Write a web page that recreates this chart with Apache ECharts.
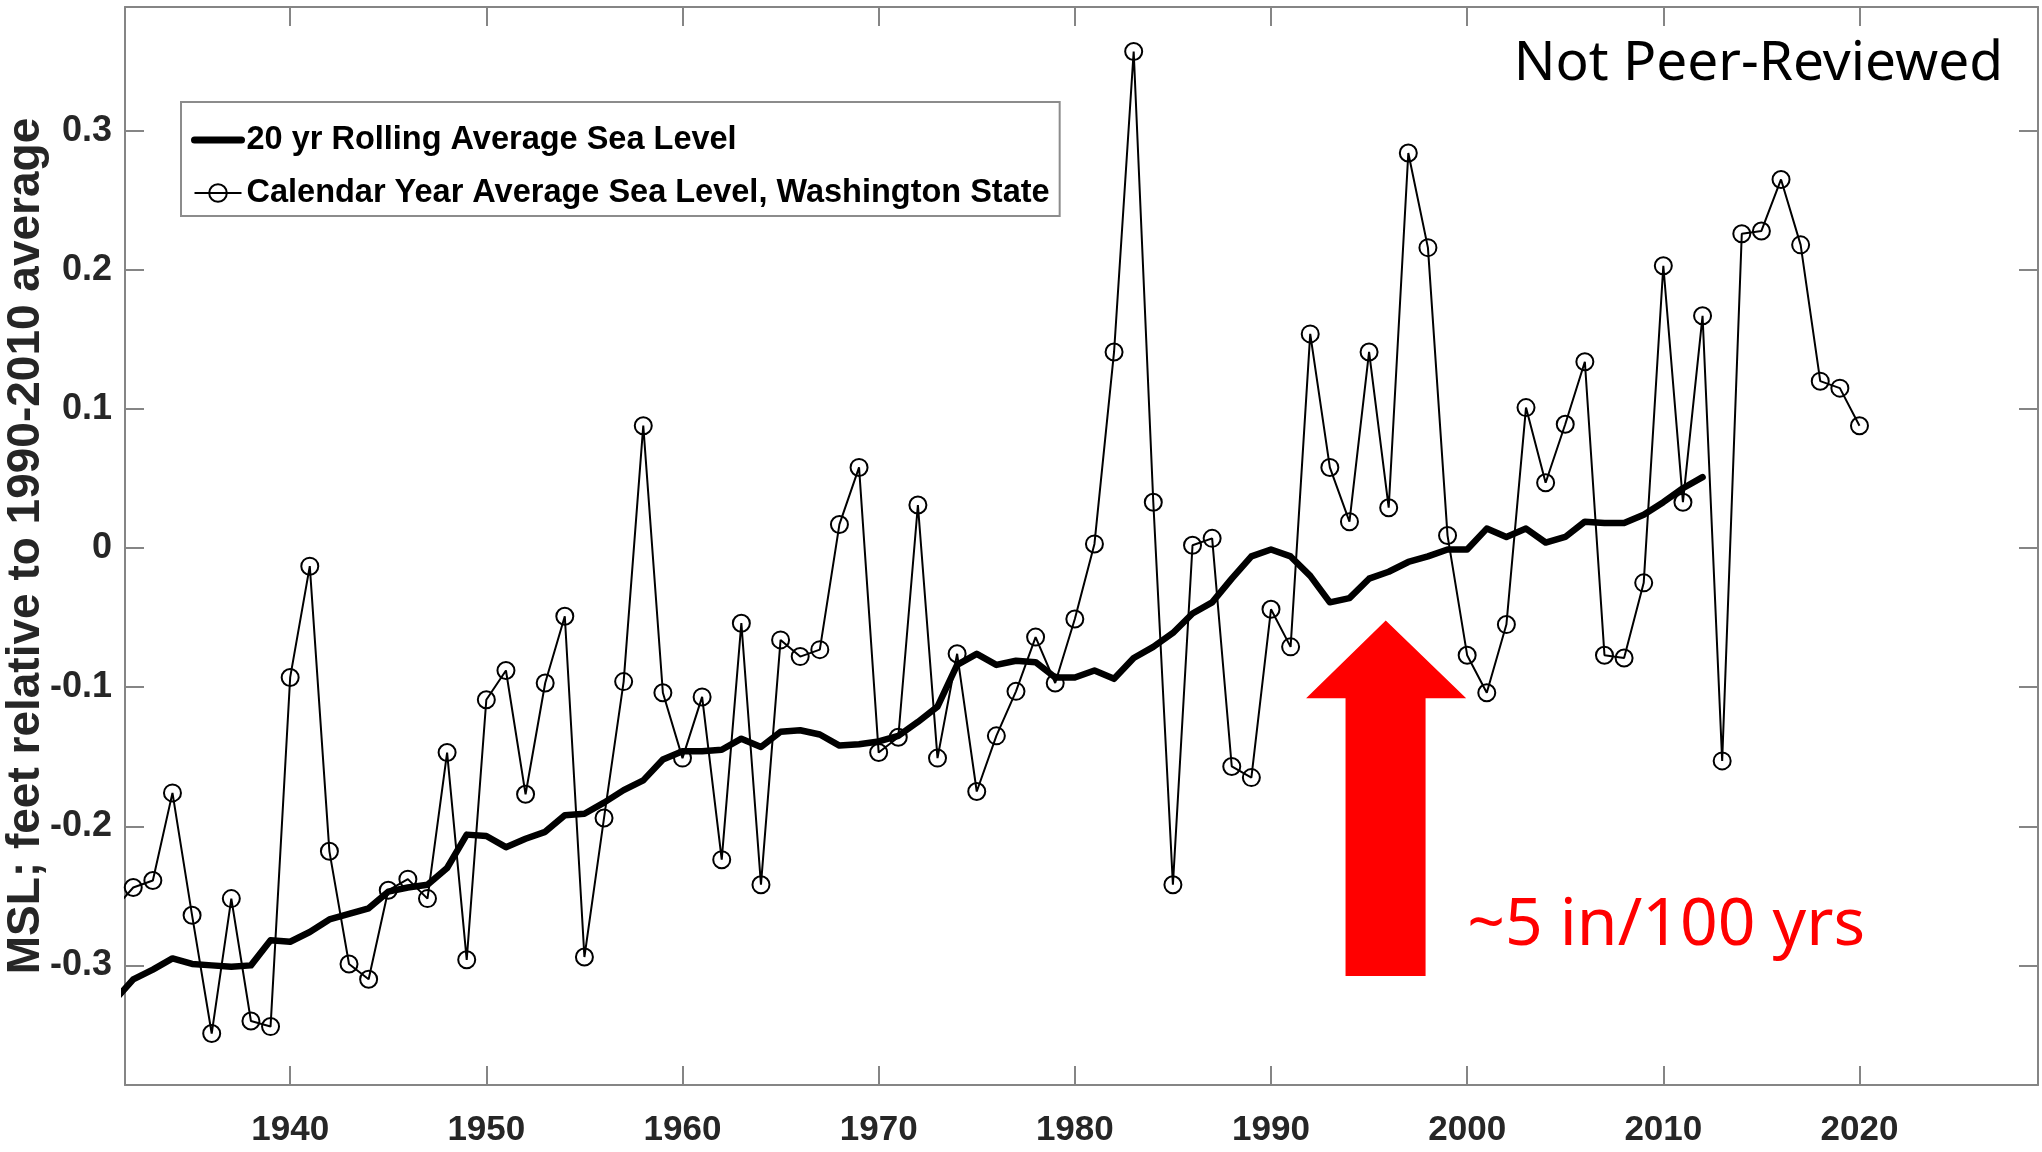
<!DOCTYPE html>
<html>
<head>
<meta charset="utf-8">
<script src="https://cdn.jsdelivr.net/npm/echarts@6/dist/echarts.min.js"></script>
<style>
  html, body { margin: 0; padding: 0; background: #ffffff; }
  #chart { width: 2042px; height: 1152px; }
</style>
</head>
<body>
<div id="chart"></div>
<script>
// Annual mean sea level, Washington State (feet relative to the 1990-2010 average)
const calendarStartYear = 1931;
const calendarLevels = [
  -0.260, -0.244, -0.239, -0.176, -0.264, -0.349, -0.252, -0.340, -0.344, -0.093, // 1931-1940
  -0.013, -0.218, -0.299, -0.310, -0.246, -0.238, -0.252, -0.147, -0.296, -0.109, // 1941-1950
  -0.088, -0.177, -0.097, -0.049, -0.294, -0.194, -0.096,  0.088, -0.104, -0.151, // 1951-1960
  -0.107, -0.224, -0.054, -0.242, -0.066, -0.078, -0.073,  0.017,  0.058, -0.147, // 1961-1970
  -0.136,  0.031, -0.151, -0.076, -0.175, -0.135, -0.103, -0.064, -0.097, -0.051, // 1971-1980
   0.003,  0.141,  0.357,  0.033, -0.242,  0.002,  0.007, -0.157, -0.165, -0.044, // 1981-1990
  -0.071,  0.154,  0.058,  0.019,  0.141,  0.029,  0.284,  0.216,  0.009, -0.077, // 1991-2000
  -0.104, -0.055,  0.101,  0.047,  0.089,  0.134, -0.077, -0.079, -0.025,  0.203, // 2001-2010
   0.033,  0.167, -0.153,  0.226,  0.228,  0.265,  0.218,  0.120,  0.115,  0.088  // 2011-2020
];

// 20-year rolling mean of the same record
const rollingStartYear = 1931;
const rollingLevels = [
  -0.326, -0.310, -0.303, -0.295, -0.299, -0.300, -0.301, -0.300, -0.282, -0.283, // 1931-1940
  -0.276, -0.267, -0.263, -0.259, -0.247, -0.244, -0.242, -0.230, -0.206, -0.207, // 1941-1950
  -0.215, -0.209, -0.204, -0.192, -0.191, -0.183, -0.174, -0.167, -0.152, -0.146, // 1951-1960
  -0.146, -0.145, -0.137, -0.143, -0.132, -0.131, -0.134, -0.142, -0.141, -0.139, // 1961-1970
  -0.135, -0.125, -0.114, -0.084, -0.076, -0.084, -0.081, -0.082, -0.093, -0.093, // 1971-1980
  -0.088, -0.094, -0.079, -0.071, -0.061, -0.047, -0.039, -0.022, -0.006, -0.001, // 1981-1990
  -0.006, -0.020, -0.039, -0.036, -0.022, -0.017, -0.010, -0.006, -0.001, -0.001, // 1991-2000
   0.014,  0.008,  0.014,  0.004,  0.008,  0.019,  0.018,  0.018,  0.024,  0.033, // 2001-2010
   0.043,  0.051                                                                   // 2011-2012
];

const xTickValues = [1940, 1950, 1960, 1970, 1980, 1990, 2000, 2010, 2020];
const yTickValues = [-0.3, -0.2, -0.1, 0, 0.1, 0.2, 0.3];

const rollingName = '20 yr Rolling Average Sea Level';
const calendarName = 'Calendar Year Average Sea Level, Washington State';
const trendNote = '~5 in/100 yrs';
const stampText = 'Not Peer-Reviewed';

const calendarData = calendarLevels.map((v, i) => [calendarStartYear + i, v]);
const rollingData = rollingLevels.map((v, i) => [rollingStartYear + i, v]);

const boldFont = "'Liberation Sans', Arial, Helvetica, sans-serif";
const axisGray = '#858585';
const labelColor = '#262626';

// Up-pointing arrow outline in (year, feet) space
const arrowOutline = [
  [1995.85, -0.052],
  [1999.95, -0.108],
  [1997.88, -0.108],
  [1997.88, -0.3076],
  [1993.80, -0.3076],
  [1993.80, -0.108],
  [1991.79, -0.108]
];
const notePosition = [2000.0, -0.272];

const chart = echarts.init(document.getElementById('chart'), null, { renderer: 'canvas' });

const xRange = { min: 1931.58, max: 2029.1 };
const yRange = { min: -0.386, max: 0.389 };

function tickStyle() {
  return { show: true, inside: true, length: 19, lineStyle: { color: axisGray, width: 2 } };
}

chart.setOption({
  backgroundColor: '#ffffff',
  animation: false,
  grid: { left: 125, right: 4, top: 7, bottom: 67, containLabel: false, outerBoundsMode: 'none' },
  xAxis: [
    {
      type: 'value', position: 'bottom', min: xRange.min, max: xRange.max,
      axisLine: { show: true, onZero: false, lineStyle: { color: axisGray, width: 2 } },
      axisTick: Object.assign(tickStyle(), { customValues: xTickValues }),
      axisLabel: {
        customValues: xTickValues, margin: 28,
        fontFamily: boldFont, fontWeight: 'bold', fontSize: 35, color: labelColor,
        formatter: v => String(Math.round(v))
      },
      splitLine: { show: false }
    },
    {
      type: 'value', position: 'top', min: xRange.min, max: xRange.max,
      axisLine: { show: true, onZero: false, lineStyle: { color: axisGray, width: 2 } },
      axisTick: Object.assign(tickStyle(), { customValues: xTickValues }),
      axisLabel: { show: false },
      splitLine: { show: false }
    }
  ],
  yAxis: [
    {
      type: 'value', position: 'left', min: yRange.min, max: yRange.max,
      axisLine: { show: true, onZero: false, lineStyle: { color: axisGray, width: 2 } },
      axisTick: Object.assign(tickStyle(), { customValues: yTickValues }),
      axisLabel: {
        customValues: yTickValues, margin: 13,
        fontFamily: boldFont, fontWeight: 'bold', fontSize: 36, color: labelColor,
        formatter: v => (Math.abs(v) < 1e-9 ? '0' : v.toFixed(1))
      },
      splitLine: { show: false },
      name: 'MSL; feet relative to 1990-2010 average',
      nameLocation: 'middle',
      nameGap: 76,
      nameMoveOverlap: false,
      nameTextStyle: {
        fontFamily: boldFont, fontWeight: 'bold',
        fontSize: 46, color: labelColor
      }
    },
    {
      type: 'value', position: 'right', min: yRange.min, max: yRange.max,
      axisLine: { show: true, onZero: false, lineStyle: { color: axisGray, width: 2 } },
      axisTick: Object.assign(tickStyle(), { customValues: yTickValues }),
      axisLabel: { show: false },
      splitLine: { show: false }
    }
  ],
  legend: {
    orient: 'vertical',
    left: 181, top: 102,
    data: [
      // thick line only, no marker, for the rolling mean entry
      {
        name: rollingName,
        itemStyle: { color: 'rgba(0,0,0,0)', borderWidth: 0, opacity: 0 },
        lineStyle: { color: '#000000', width: 7, opacity: 1 }
      },
      { name: calendarName }
    ],
    selectedMode: false,
    backgroundColor: '#ffffff',
    borderColor: '#8c8c8c', borderWidth: 2, borderRadius: 0,
    padding: [18, 10, 3, 10],
    itemWidth: 47, itemHeight: 22, itemGap: 13,
    textStyle: { fontFamily: boldFont, fontWeight: 'bold', fontSize: 32.5, color: '#000000', lineHeight: 40 }
  },
  graphic: [
    {
      type: 'text', x: 2003, y: 64, z: 100,
      style: { text: stampText, fill: '#000000', fontFamily: "'Noto Sans', sans-serif", fontSize: 55, align: 'right', verticalAlign: 'middle' }
    }
  ],
  series: [
    {
      name: calendarName,
      type: 'line',
      data: calendarData,
      xAxisIndex: 0, yAxisIndex: 0,
      symbol: 'circle', symbolSize: 17, showSymbol: true,
      lineStyle: { color: '#000000', width: 2 },
      itemStyle: { color: 'rgba(255,255,255,0)', borderColor: '#000000', borderWidth: 2 },
      z: 3, silent: true
    },
    {
      name: rollingName,
      type: 'line',
      data: rollingData,
      xAxisIndex: 0, yAxisIndex: 0,
      symbol: 'none',
      lineStyle: { color: '#000000', width: 6.5, join: 'round', cap: 'round' },
      itemStyle: { color: '#000000' },
      z: 4, silent: true
    },
    {
      name: 'trend-arrow',
      type: 'custom',
      xAxisIndex: 0, yAxisIndex: 0,
      data: [arrowOutline[0]],
      silent: true, z: 6,
      renderItem: (params, api) => ({
        type: 'polygon',
        shape: { points: arrowOutline.map(p => api.coord(p)) },
        style: { fill: '#ff0000' }
      })
    },
    {
      name: 'trend-note',
      type: 'custom',
      xAxisIndex: 0, yAxisIndex: 0,
      data: [notePosition],
      silent: true, z: 6,
      renderItem: (params, api) => {
        const p = api.coord([api.value(0), api.value(1)]);
        return {
          type: 'text', x: p[0], y: p[1],
          style: {
            text: trendNote, fill: '#ff0000',
            fontFamily: "'Noto Sans', sans-serif", fontSize: 66,
            align: 'left', verticalAlign: 'middle'
          }
        };
      }
    }
  ]
});
</script>
</body>
</html>
